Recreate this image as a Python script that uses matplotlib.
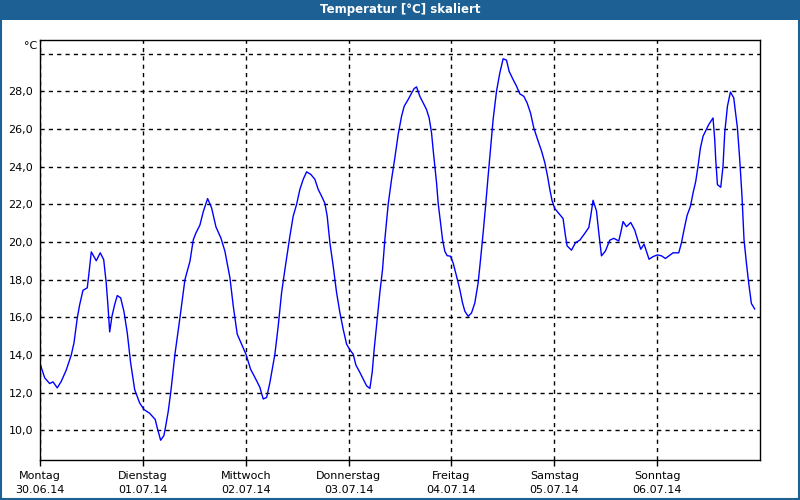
import numpy as np
import matplotlib
matplotlib.use('Agg')
from matplotlib import pyplot as plt
from matplotlib.patches import Rectangle
from matplotlib.transforms import blended_transform_factory

# hours since Monday 30.06.14 00:00 and temperature in degC
hours = [
    0.16, 1.10, 2.26, 3.03, 4.03, 4.97, 6.13, 7.30, 7.93, 8.70, 9.26, 10.03,
    11.03, 11.43, 11.97, 13.13, 14.06, 14.86, 15.46, 15.86, 16.26, 16.79, 17.42,
    18.03, 18.82, 19.59, 20.36, 21.15, 22.09, 23.25, 24.26, 25.59, 26.89, 27.36,
    28.15, 28.92, 29.46, 29.92, 30.55, 31.49, 32.65, 33.82, 34.99, 35.76, 36.38,
    37.32, 38.09, 39.11, 40.05, 41.05, 42.22, 43.15, 44.32, 45.09, 46.02, 47.04,
    48.05, 49.14, 50.54, 51.31, 52.08, 52.88, 53.65, 54.81, 55.58, 56.37, 57.14,
    58.31, 59.08, 59.87, 60.64, 61.41, 62.21, 63.21, 64.14, 64.91, 65.70, 66.47,
    67.01, 67.64, 68.41, 69.20, 69.97, 70.74, 71.54, 72.31, 73.08, 73.71, 74.64,
    75.41, 76.20, 76.97, 77.51, 77.98, 78.53, 79.30, 79.93, 80.47, 81.24, 82.03,
    82.80, 83.57, 84.36, 84.97, 85.90, 86.70, 87.30, 87.86, 88.63, 89.40, 90.19,
    90.80, 91.36, 91.73, 92.13, 92.53, 92.90, 93.46, 93.93, 94.46, 95.00, 95.79,
    96.40, 97.19, 97.96, 98.59, 99.13, 99.90, 100.69, 101.46, 102.23, 102.79,
    103.40, 104.03, 104.56, 105.12, 105.73, 106.52, 107.29, 108.06, 108.85,
    109.46, 110.39, 111.19, 111.96, 112.89, 113.66, 114.45, 115.22, 116.22,
    117.02, 117.79, 118.42, 118.95, 119.49, 120.12, 120.89, 122.05, 122.61,
    122.99, 124.01, 124.95, 125.95, 126.95, 128.05, 128.51, 129.05, 129.84,
    130.38, 131.01, 131.94, 132.94, 133.88, 135.05, 135.51, 136.05, 136.84,
    137.84, 138.78, 139.41, 140.18, 140.95, 142.11, 143.05, 144.07, 145.01,
    145.94, 146.94, 147.71, 149.04, 149.67, 150.28, 150.98, 151.77, 152.38,
    153.01, 153.54, 154.10, 154.71, 155.34, 156.04, 157.04, 157.44, 157.67,
    158.07, 158.84, 159.37, 159.77, 160.40, 161.10, 161.87, 162.73, 163.27,
    163.80, 164.27, 164.83, 165.36, 165.99, 166.76,
]
temps = [
    13.43, 12.78, 12.48, 12.57, 12.25, 12.60, 13.20, 14.00, 14.64, 15.96, 16.67,
    17.43, 17.56, 18.35, 19.47, 19.00, 19.42, 19.06, 17.80, 16.60, 15.22, 16.05,
    16.67, 17.15, 17.03, 16.30, 15.17, 13.58, 12.16, 11.45, 11.10, 10.90, 10.57,
    10.12, 9.47, 9.72, 10.39, 11.00, 12.10, 14.04, 15.97, 18.00, 18.97, 20.11,
    20.47, 20.90, 21.60, 22.30, 21.80, 20.80, 20.20, 19.50, 18.09, 16.60, 15.10,
    14.56, 14.04, 13.24, 12.63, 12.27, 11.66, 11.74, 12.54, 14.04, 15.53, 17.30,
    18.53, 20.31, 21.37, 21.99, 22.79, 23.32, 23.72, 23.58, 23.32, 22.79, 22.43,
    22.05, 21.37, 19.96, 18.72, 17.31, 16.25, 15.37, 14.57, 14.27, 14.04, 13.46,
    13.07, 12.72, 12.36, 12.22, 13.07, 14.31, 15.54, 17.31, 18.55, 20.14, 21.99,
    23.32, 24.47, 25.70, 26.67, 27.20, 27.56, 27.90, 28.14, 28.23, 27.73, 27.38,
    27.03, 26.58, 25.79, 24.90, 24.02, 23.13, 22.07, 21.00, 20.12, 19.50, 19.27,
    19.24, 18.88, 18.18, 17.47, 16.76, 16.32, 16.05, 16.23, 16.76, 17.82, 19.06,
    20.48, 22.07, 23.49, 24.90, 26.50, 28.00, 28.97, 29.72, 29.65, 29.06, 28.62,
    28.27, 27.86, 27.73, 27.38, 26.85, 26.05, 25.36, 24.83, 24.21, 23.50, 22.80,
    22.18, 21.77, 21.56, 21.24, 20.32, 19.79, 19.56, 19.96, 20.09, 20.40, 20.76,
    21.38, 22.21, 21.65, 20.50, 19.26, 19.52, 20.09, 20.19, 20.05, 20.50, 21.08,
    20.81, 21.03, 20.62, 20.14, 19.61, 19.88, 19.08, 19.22, 19.31, 19.26, 19.12,
    19.29, 19.42, 19.42, 19.95, 20.65, 21.40, 21.89, 22.60, 23.22, 24.02, 24.99,
    25.61, 25.91, 26.23, 26.58, 25.43, 24.37, 23.04, 22.90, 24.02, 25.79, 27.20,
    27.96, 27.65, 26.05, 24.37, 22.42, 20.12, 18.88, 17.82, 16.73, 16.44,
]

day_names = ['Montag', 'Dienstag', 'Mittwoch', 'Donnerstag', 'Freitag', 'Samstag', 'Sonntag']
day_dates = ['30.06.14', '01.07.14', '02.07.14', '03.07.14', '04.07.14', '05.07.14', '06.07.14']
y_ticks = [10, 12, 14, 16, 18, 20, 22, 24, 26, 28, 30]

bar_blue = '#1d6094'

fig = plt.figure(figsize=(8, 5), dpi=100)
fig.patch.set_facecolor('white')

# title bar and outer frame
fig.patches.append(Rectangle((0, 0.96), 1, 0.04, transform=fig.transFigure,
                             facecolor=bar_blue, edgecolor='none', zorder=0))
fig.patches.append(Rectangle((0.001, 0.002), 0.998, 0.996, transform=fig.transFigure,
                             facecolor='none', edgecolor=bar_blue, lw=1.5, zorder=1))
fig.text(0.5, 0.98, 'Temperatur [°C] skaliert', color='white', fontsize=8.5,
         fontweight='bold', ha='center', va='center')

ax = fig.add_axes([0.05, 0.08, 0.9, 0.84])
ax.plot(hours, temps, color='#0000ff', lw=1)

ax.set_xlim(0, 168)
ax.set_ylim(8.42, 30.72)

ax.set_yticks(y_ticks)
ax.set_yticklabels([f'{v:.1f}'.replace('.', ',') if v < 30 else '' for v in y_ticks])
ax.set_xticks(np.arange(0, 168, 24))
ax.set_xticklabels([f'{n}\n{d}' for n, d in zip(day_names, day_dates)], linespacing=1.5)

ax.grid(True, color='black', linestyle=(0, (3, 3)), lw=1)
ax.tick_params(axis='y', length=0, pad=5, labelsize=8)
ax.tick_params(axis='x', length=4, width=1, direction='out', pad=4, labelsize=8)
for s in ax.spines.values():
    s.set_color('black')
    s.set_linewidth(1)

trans = blended_transform_factory(ax.transAxes, ax.transData)
ax.text(-0.004, 30.4, '°C', transform=trans, ha='right', va='center', fontsize=8)

plt.savefig('out.png', dpi=100)
